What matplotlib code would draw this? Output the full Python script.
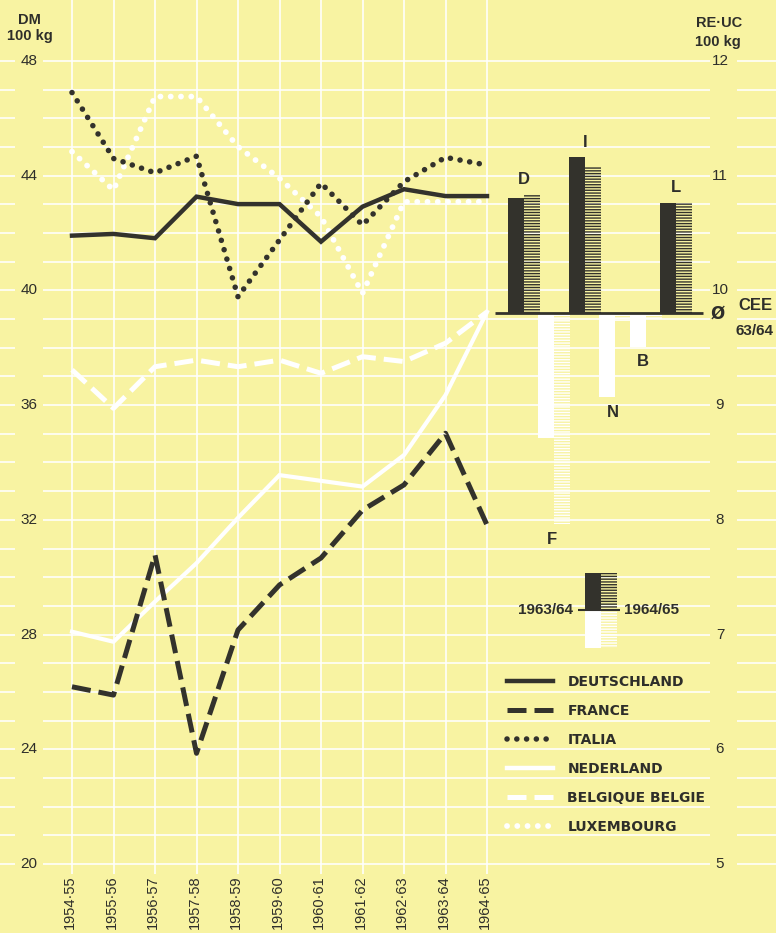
import matplotlib.pyplot as plt
from matplotlib.lines import Line2D

# --- data (DM / 100 kg) ---
seasons = ['1954·55', '1955·56', '1956·57', '1957·58', '1958·59', '1959·60',
           '1960·61', '1961·62', '1962·63', '1963·64', '1964·65']

deutschland = [41.91, 41.97, 41.82, 43.27, 43.01, 43.01, 41.70, 42.92, 43.53, 43.29, 43.29]
france = [26.18, 25.89, 30.78, 23.86, 28.16, 29.73, 30.67, 32.34, 33.22, 35.02, 31.82]
italia = [46.90, 44.60, 44.10, 44.68, 39.78, 41.76, 43.74, 42.28, 43.79, 44.64, 44.37]
nederland = [28.10, 27.75, 29.15, 30.49, 32.07, 33.56, 33.36, 33.16, 34.26, 36.35, 39.25]
belgique = [37.23, 35.89, 37.34, 37.57, 37.34, 37.57, 37.11, 37.69, 37.52, 38.16, 39.25]
luxembourg = [44.84, 43.50, 46.76, 46.76, 45.01, 43.91, 42.57, 39.90, 43.09, 43.09, 43.09]

# inset bars (RE-UC / 100 kg), drawn from the CEE average 63/64
bar_countries = ['D', 'F', 'I', 'N', 'B', 'L']
price_6364 = [10.81, 8.71, 11.16, 9.07, 9.51, 10.76]
price_6465 = [10.83, 7.96, 11.08, 9.73, 9.74, 10.76]
cee_6364 = 9.80

left_ticks = [20, 24, 28, 32, 36, 40, 44, 48]
right_ticks = [5, 6, 7, 8, 9, 10, 11, 12]

# --- colours / styles ---
bg = '#f8f3a2'
dark = '#33322c'
white = '#ffffff'
txt = '#2e2e2a'

W, H = 776, 933
fig = plt.figure(figsize=(W / 100, H / 100), dpi=100, facecolor=bg)
ax = fig.add_axes([0, 0, 1, 1])
ax.set_facecolor('none')

# pixel layout: category 0 at x=72px, 41.5px per season; 48 at y=61px, 20 at y=864px
x0, dx = 72, 41.5
ax.set_xlim(-x0 / dx, (W - x0) / dx)
ylo, yhi = 17.594, 50.127
ax.set_ylim(ylo, yhi)
ax.axis('off')

ax2 = ax.twinx()
ax2.set_ylim(ylo / 4, yhi / 4)
ax2.axis('off')


def fx(px):
    return px / W


def fy(py):
    return (H - py) / H


# grid
ytr = ax.get_yaxis_transform()
for v in range(20, 49):
    for a, b in [(0, 15), (43, 710), (737, W)]:
        ax.hlines(v, fx(a), fx(b), transform=ytr, color='white', lw=1.15, zorder=1)
ax.vlines(range(len(seasons)), fy(874), 1, transform=ax.get_xaxis_transform(),
          color='white', lw=1.15, zorder=1)

# tick labels
for v in left_ticks:
    ax.text(fx(29), v, str(v), transform=ytr, ha='center', va='center',
            fontsize=11, family='Liberation Sans', color=txt)
for v in right_ticks:
    ax2.text(fx(720), v, str(v), transform=ax2.get_yaxis_transform(), ha='center',
             va='center', fontsize=11, family='Liberation Sans', color=txt)
for i, s in enumerate(seasons):
    ax.text(i - 0.05, fy(875), s, transform=ax.get_xaxis_transform(), rotation=90,
            ha='center', va='top', fontsize=10.5, family='Liberation Sans', color=txt)

fig.text(fx(29), fy(20), 'DM', ha='center', va='center', fontsize=10.5,
         fontweight='bold', family='Liberation Sans', color=txt)
fig.text(fx(30), fy(36), '100 kg', ha='center', va='center', fontsize=10.5,
         fontweight='bold', family='Liberation Sans', color=txt)
fig.text(fx(719), fy(23), 'RE·UC', ha='center', va='center', fontsize=10.5,
         fontweight='bold', family='Liberation Sans', color=txt)
fig.text(fx(718), fy(42), '100 kg', ha='center', va='center', fontsize=10.5,
         fontweight='bold', family='Liberation Sans', color=txt)

# lines
x = list(range(len(seasons)))
dots = (0, (0.01, 1.75))
dashes = (0, (3.8, 1.6))
ax.plot(x, belgique, color=white, lw=3.6, ls=dashes, zorder=3)
ax.plot(x, nederland, color=white, lw=3.0, zorder=3, solid_joinstyle='miter')
ax.plot(x, luxembourg, color=white, lw=4.2, ls=dots, dash_capstyle='round', zorder=3)
ax.plot(x, france, color=dark, lw=3.6, ls=dashes, zorder=4)
ax.plot(x, deutschland, color=dark, lw=3.2, zorder=4, solid_joinstyle='miter')
ax.plot(x, italia, color=dark, lw=4.0, ls=dots, dash_capstyle='round', zorder=5)

handles = [
    Line2D([], [], color=dark, lw=3.2),
    Line2D([], [], color=dark, lw=3.6, ls=dashes),
    Line2D([], [], color=dark, lw=4.0, ls=dots, dash_capstyle='round'),
    Line2D([], [], color=white, lw=3.2),
    Line2D([], [], color=white, lw=3.6, ls=dashes),
    Line2D([], [], color=white, lw=4.2, ls=dots, dash_capstyle='round'),
]
names = ['DEUTSCHLAND', 'FRANCE', 'ITALIA', 'NEDERLAND', 'BELGIQUE BELGIE', 'LUXEMBOURG']
leg = ax.legend(handles, names, loc='upper left', bbox_to_anchor=(fx(507), fy(675)),
                bbox_transform=fig.transFigure, frameon=False, borderpad=0,
                borderaxespad=0, handlelength=3.3, handletextpad=1.05, labelspacing=1.08,
                prop={'family': 'DejaVu Sans', 'weight': 'bold', 'size': 10})
for t in leg.get_texts():
    t.set_color(txt)

# inset bar chart
bw = 16 / dx
start, step = (508 - x0) / dx, 30.4 / dx
hatch = '-' * 6
plt.rcParams['hatch.linewidth'] = 1.0
for k, c in enumerate(bar_countries):
    left = start + k * step
    a, b = price_6364[k], price_6465[k]
    if a >= cee_6364:
        ax2.bar(left, a - cee_6364, bw, bottom=cee_6364, align='edge', color=dark,
                lw=0, zorder=6)
    else:
        ax2.bar(left, a - cee_6364, bw, bottom=cee_6364, align='edge', color=white,
                lw=0, zorder=6)
    hc = dark if b >= cee_6364 else white
    ax2.bar(left + bw, b - cee_6364, bw, bottom=cee_6364, align='edge', color='none',
            edgecolor=hc, hatch=hatch, lw=0, zorder=6)
    if max(a, b) > cee_6364:
        ax2.annotate(c, (left + bw, max(a, b)), xytext=(0, 11), textcoords='offset points',
                     ha='center', va='center', fontsize=12, fontweight='bold',
                     family='Liberation Sans', color=txt)
    else:
        ax2.annotate(c, (left + bw * 0.85, min(a, b)), xytext=(0, -11),
                     textcoords='offset points', ha='center', va='center', fontsize=12,
                     fontweight='bold', family='Liberation Sans', color=txt)

ax2.hlines(cee_6364, (495 - x0) / dx, (703 - x0) / dx, color=dark, lw=2.0, zorder=7)
ax2.text(fx(718), cee_6364, 'Ø', transform=ax2.get_yaxis_transform(), ha='center',
         va='center', fontsize=12, fontweight='bold', family='DejaVu Sans', color=txt)
fig.text(fx(755), fy(305), 'CEE', ha='center', va='center', fontsize=12,
         fontweight='bold', family='Liberation Sans', color=txt)
fig.text(fx(754), fy(331), '63/64', ha='center', va='center', fontsize=11,
         fontweight='bold', family='Liberation Sans', color=txt)

# key for the bars
kb = 7.21
kl = (585 - x0) / dx
ax2.bar(kl, 0.33, bw, bottom=kb, align='edge', color=dark, lw=0, zorder=6)
ax2.bar(kl + bw, 0.33, bw, bottom=kb, align='edge', color='none', edgecolor=dark,
        hatch=hatch, lw=0, zorder=6)
ax2.bar(kl, -0.33, bw, bottom=kb, align='edge', color=white, lw=0, zorder=6)
ax2.bar(kl + bw, -0.33, bw, bottom=kb, align='edge', color='none', edgecolor=white,
        hatch=hatch, lw=0, zorder=6)
ax2.hlines(kb, (578 - x0) / dx, (620 - x0) / dx, color=dark, lw=1.5, zorder=7)
ax2.text(fx(573), kb, '1963/64', transform=ax2.get_yaxis_transform(), ha='right',
         va='center', fontsize=11, fontweight='bold', family='Liberation Sans', color=txt)
ax2.text(fx(624), kb, '1964/65', transform=ax2.get_yaxis_transform(), ha='left',
         va='center', fontsize=11, fontweight='bold', family='Liberation Sans', color=txt)

fig.savefig('out.png', dpi=100, facecolor=bg)
